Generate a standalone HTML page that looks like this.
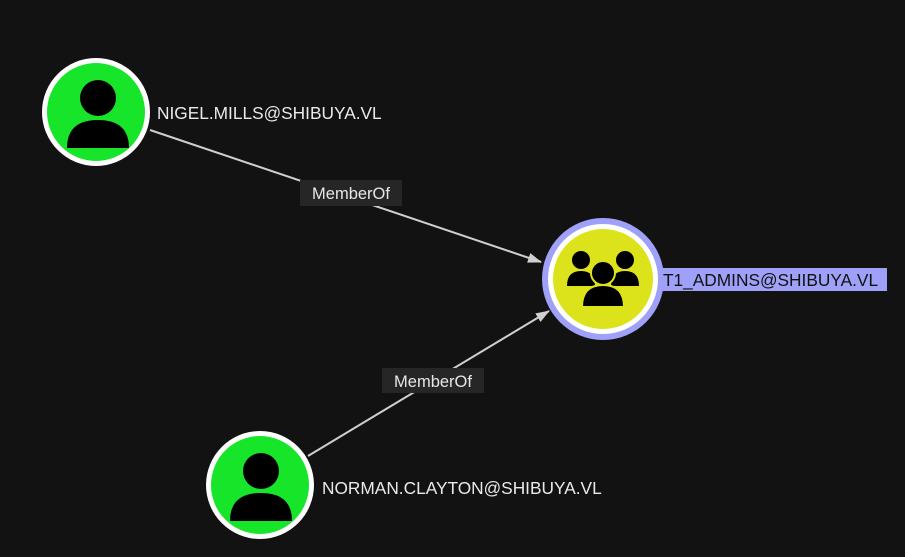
<!DOCTYPE html>
<html><head><style>
body{margin:0;background:#121212;width:905px;height:552px;overflow:hidden;font-family:"Liberation Sans",sans-serif;}
</style></head><body>
<svg width="905" height="552" xmlns="http://www.w3.org/2000/svg">
<rect width="905" height="552" fill="#121212"/>
<defs><marker id="a" markerWidth="14" markerHeight="10" refX="13" refY="5" orient="auto" markerUnits="userSpaceOnUse"><path d="M0,0 L14,5 L0,10 z" fill="#d0d0d0"/></marker></defs>
<line x1="150" y1="130" x2="541" y2="262" stroke="#cfcfcf" stroke-width="2" marker-end="url(#a)"/>
<line x1="308" y1="456" x2="549" y2="311" stroke="#cfcfcf" stroke-width="2" marker-end="url(#a)"/>
<rect x="300" y="180" width="102" height="26" fill="#262626"/>
<text x="351" y="199" fill="#e6e6e6" font-size="16.5" text-anchor="middle">MemberOf</text>
<rect x="382" y="368" width="102" height="25" fill="#262626"/>
<text x="433" y="387" fill="#e6e6e6" font-size="16.5" text-anchor="middle">MemberOf</text>
<!-- Nigel -->
<circle cx="96" cy="112" r="54" fill="#fff"/>
<circle cx="96" cy="112" r="49" fill="#17e52a"/>
<circle cx="98" cy="98" r="18" fill="#000"/>
<path d="M67,148 Q67,120 98,120 Q129,120 129,148 Z" fill="#000"/>
<text x="157" y="119" fill="#eaeaea" font-size="17.3">NIGEL.MILLS@SHIBUYA.VL</text>
<!-- Norman -->
<circle cx="260" cy="485" r="54" fill="#fff"/>
<circle cx="260" cy="485" r="49" fill="#17e52a"/>
<circle cx="261" cy="471" r="18" fill="#000"/>
<path d="M230,521 Q230,493 261,493 Q292,493 292,521 Z" fill="#000"/>
<text x="322" y="494" fill="#eaeaea" font-size="17.3">NORMAN.CLAYTON@SHIBUYA.VL</text>
<!-- T1 -->
<circle cx="603" cy="279" r="61" fill="#9ea1f7"/>
<circle cx="603" cy="279" r="55" fill="#fff"/>
<circle cx="603" cy="279" r="50" fill="#dde31a"/>
<circle cx="581" cy="260" r="9" fill="#000"/>
<circle cx="625" cy="260" r="9" fill="#000"/>
<path d="M567,286 Q567,271 581,271 Q595,271 595,286 Z" fill="#000"/>
<path d="M611,286 Q611,271 625,271 Q639,271 639,286 Z" fill="#000"/>
<circle cx="603" cy="273" r="12" fill="#000" stroke="#dde31a" stroke-width="2"/>
<path d="M582,307 Q582,285 603,285 Q624,285 624,307 Z" fill="#000" stroke="#dde31a" stroke-width="2"/>
<rect x="660" y="268" width="227" height="23" fill="#9ea1f7"/>
<text x="663" y="286" fill="#111" font-size="17.3">T1_ADMINS@SHIBUYA.VL</text>
</svg>
</body></html>
